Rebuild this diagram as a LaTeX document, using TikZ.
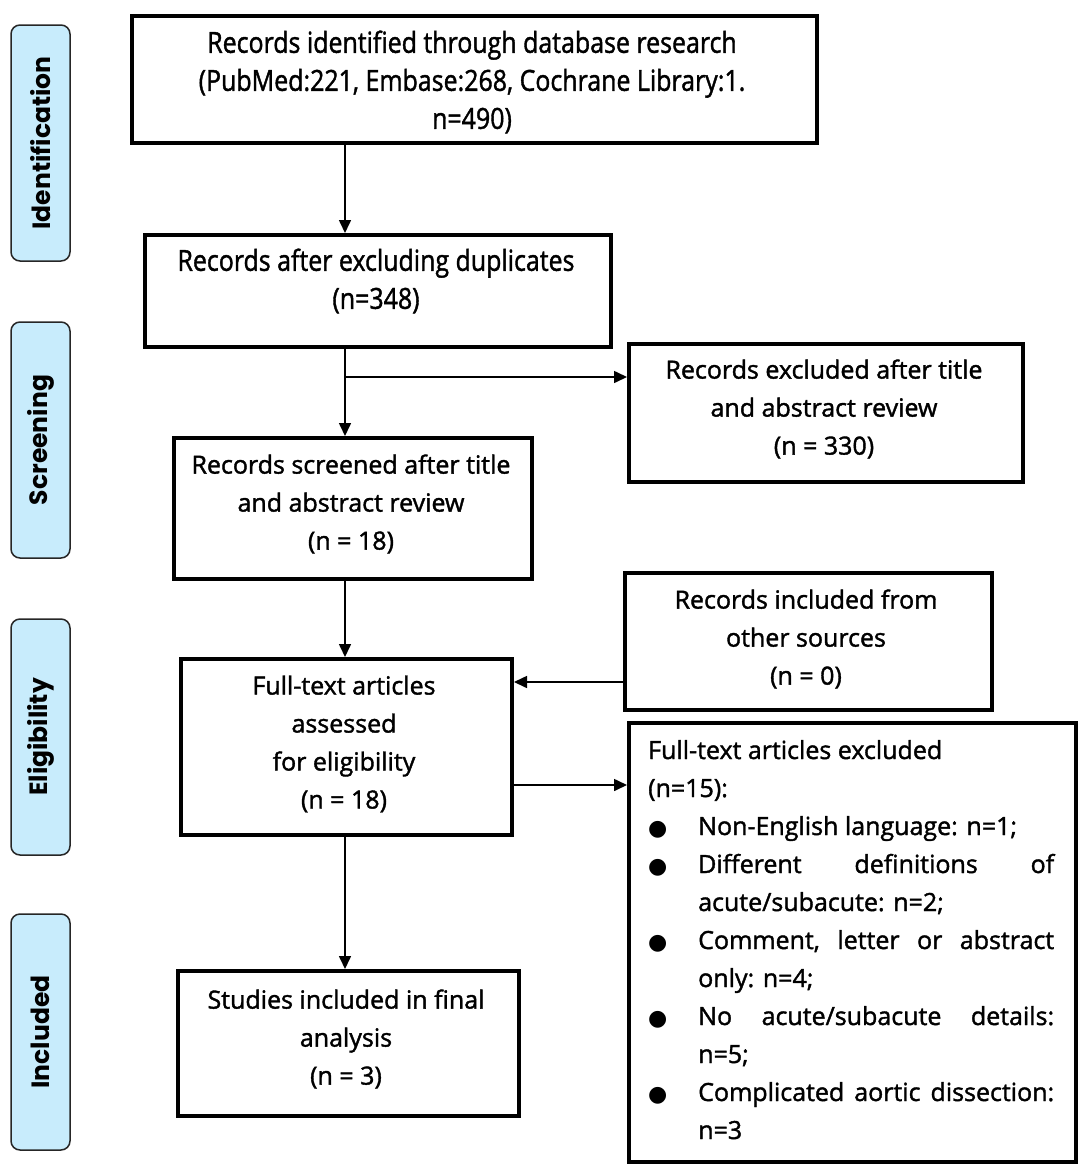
\documentclass[tikz,border=0pt]{standalone}
\usepackage{fontspec}
\setmainfont{Open Sans}[FakeBold=1.5]
\newfontfamily\sidefont{Poppins}
\newfontfamily\symfont{DejaVu Sans}
\usetikzlibrary{arrows.meta}
\definecolor{sideblue}{RGB}{200,236,252}
\newcommand{\bul}{\makebox[50pt][l]{\symfont\fontsize{22}{22}\selectfont ●}}
\newcommand{\cond}[1]{\scalebox{0.86}[1]{#1}}
\tikzset{
 box/.style={draw, line width=4pt, inner sep=0pt, anchor=north west},
 txt/.style={align=center, font=\fontsize{25}{38}\selectfont, inner sep=0pt},
 ctxt/.style={align=center, font=\fontsize{29}{38}\selectfont, inner sep=0pt},
 side/.style={draw=black!85, line width=1.5pt, fill=sideblue, rounded corners=9pt,
   minimum width=236pt, minimum height=59pt, inner sep=0pt, rotate=90,
   font=\sidefont\bfseries\fontsize{25}{25}\selectfont},
 arr/.style={line width=1.6pt, -{Triangle[length=13pt,width=12pt]}},
}
\begin{document}
\begin{tikzpicture}[x=1pt,y=-1pt]
\useasboundingbox (0,0) rectangle (1084,1165);
% side labels
\node[side] (sIdent) at (40.5,143) {Identification};
\node[side] (sScreen) at (40.5,440) {Screening};
\node[side] (sElig) at (40.5,737) {Eligibility};
\node[side] (sIncl) at (40.5,1032) {Included};
% boxes
\node[box, minimum width=685pt, minimum height=127pt] (b1) at (130,14) {};
\node[box, minimum width=466pt, minimum height=112pt] (b2) at (143,233) {};
\node[box, minimum width=394pt, minimum height=138pt] (b3) at (627,342) {};
\node[box, minimum width=358pt, minimum height=141pt] (b4) at (172,436) {};
\node[box, minimum width=367pt, minimum height=137pt] (b5) at (623,571) {};
\node[box, minimum width=331pt, minimum height=176pt] (b6) at (179,657) {};
\node[box, minimum width=447pt, minimum height=439pt] (b7) at (627,721) {};
\node[box, minimum width=341pt, minimum height=145pt] (b8) at (176,969) {};
% texts
\node[ctxt] (t1) at (472,82) {\cond{Records identified through database research}\\
 \cond{(PubMed:221, Embase:268, Cochrane Library:1.}\\ \cond{n=490)}};
\node[ctxt] (t2) at (376,281) {\cond{Records after excluding duplicates}\\ \cond{(n=348)}};
\node[txt] (t3) at (824,409) {Records excluded after title\\ and abstract review\\ (n = 330)};
\node[txt] (t4) at (351,504) {Records screened after title\\ and abstract review\\ (n = 18)};
\node[txt] (t5) at (806,639) {Records included from\\ other sources\\ (n = 0)};
\node[txt] (t6) at (344,744) {Full-text articles\\ assessed\\ for eligibility\\ (n = 18)};
\node[txt] (t8) at (346,1039) {Studies included in final\\ analysis\\ (n = 3)};
\node[inner sep=0pt, anchor=base west] (t7) at (648,759) {\begin{minipage}[t]{410pt}\fontsize{25}{38}\selectfont\parindent=0pt
Full-text articles excluded\\
(n=15):\\
\bul Non-English language: n=1;\\
\bul \makebox[356pt][s]{Different\hfill definitions\hfill of}\\
\hspace*{50pt}acute/subacute: n=2;\\
\bul \makebox[356pt][s]{Comment,\hfill letter\hfill or\hfill abstract}\\
\hspace*{50pt}only: n=4;\\
\bul \makebox[356pt][s]{No\hfill acute/subacute\hfill details:}\\
\hspace*{50pt}n=5;\\
\bul \makebox[356pt][s]{Complicated\hfill aortic\hfill dissection:}\\
\hspace*{50pt}n=3
\end{minipage}};
% connectors
\coordinate (spine) at (345,0);
\coordinate (split) at (345,377);
\draw[arr] (b1.south -| spine) -- (b2.north -| spine);
\draw[arr] (b2.south -| spine) -- (b4.north -| spine);
\draw[arr] (split) -- (split -| b3.west);
\draw[arr] (b4.south -| spine) -- (b6.north -| spine);
\draw[arr] (b5.west |- 0,682) -- (b6.east |- 0,682);
\draw[arr] (b6.east |- 0,785) -- (b7.west |- 0,785);
\draw[arr] (b6.south -| spine) -- (b8.north -| spine);
\end{tikzpicture}
\end{document}
